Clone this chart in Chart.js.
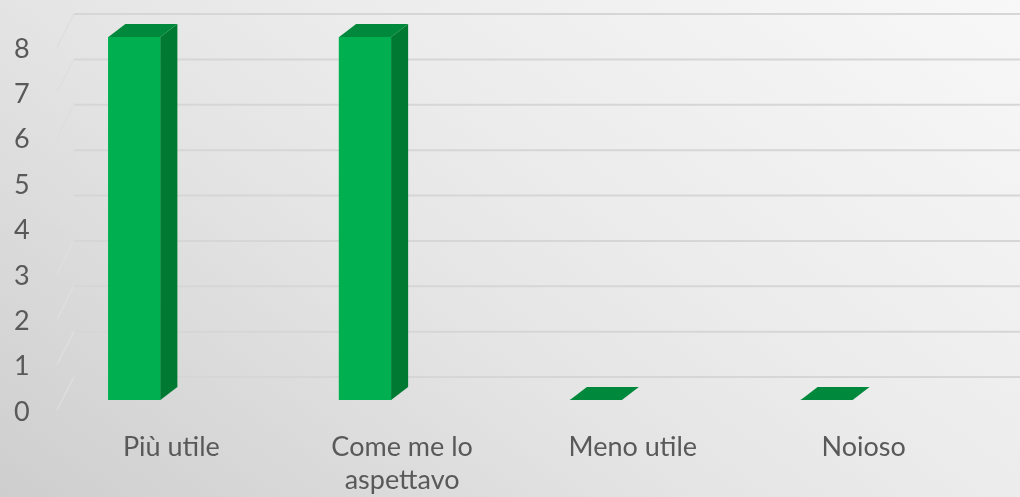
<!DOCTYPE html>
<html>
<head>
<meta charset="utf-8">
<script src="https://cdn.jsdelivr.net/npm/chart.js@4.4.1/dist/chart.umd.min.js"></script>
<style>
    html, body { margin: 0; padding: 0; overflow: hidden; }
    canvas { display: block; }
</style>
</head>
<body>
<canvas id="chart" width="1020" height="497"></canvas>
<script>
// data
const categories = ['Più utile', ['Come me lo', 'aspettavo'], 'Meno utile', 'Noioso'];
const values = [8, 8, 0, 0];
const yMin = 0;
const yMax = 8;
const yStep = 1;

// colours
const textColor = '#595959';
const frontColor = '#00b050';
const sideColor = '#007a33';
const topColor = '#00893c';
const wallLineColor = '#d6d6d6';
const floorLineColor = '#dedede';

// fake 3d geometry (pixels)
const barDepth = { dx: 17, dy: -13 };
const wallOffset = { dx: 30, dy: -23 };
const floorFront = { x: 57, dy: 10 };

const font = { family: 'Lato, "Open Sans", sans-serif', size: 27 };

// gradient background
const background = {
    id: 'background',
    beforeDraw(chart) {
        const { ctx, width, height } = chart;
        const g = ctx.createLinearGradient(width, 0, width - 591, 810);
        g.addColorStop(0, '#f8f8f8');
        g.addColorStop(0.4, '#ececec');
        g.addColorStop(0.6, '#e4e4e4');
        g.addColorStop(1, '#cecece');
        ctx.save();
        ctx.fillStyle = g;
        ctx.fillRect(0, 0, width, height);
        ctx.restore();
    },
};

// back wall gridlines + floor side lines, one per y tick
const grid3d = {
    id: 'grid3d',
    beforeDatasetsDraw(chart) {
        const { ctx, width } = chart;
        const yScale = chart.scales.y;
        const backX = floorFront.x + (wallOffset.dx - (-floorFront.dy * barDepth.dx / barDepth.dy));
        ctx.save();
        ctx.lineCap = 'butt';
        yScale.ticks.forEach((tick) => {
            const y0 = yScale.getPixelForValue(tick.value);
            const yBack = y0 + wallOffset.dy;
            const yFront = y0 + floorFront.dy;
            ctx.strokeStyle = wallLineColor;
            ctx.lineWidth = 2;
            ctx.beginPath();
            ctx.moveTo(backX, yBack);
            ctx.lineTo(width, yBack);
            ctx.stroke();
            ctx.strokeStyle = floorLineColor;
            ctx.lineWidth = 1.5;
            ctx.beginPath();
            ctx.moveTo(floorFront.x, yFront);
            ctx.lineTo(backX, yBack);
            ctx.stroke();
        });
        ctx.restore();
    },
};

// top and side faces of each bar
const bars3d = {
    id: 'bars3d',
    afterDatasetsDraw(chart) {
        const { ctx } = chart;
        const { dx, dy } = barDepth;
        chart.getDatasetMeta(0).data.forEach((bar) => {
            const { x, y, base, width } = bar.getProps(['x', 'y', 'base', 'width'], true);
            const l = x - width / 2;
            const r = x + width / 2;
            ctx.save();
            if (base - y > 0.5) {
                ctx.fillStyle = sideColor;
                ctx.beginPath();
                ctx.moveTo(r, y);
                ctx.lineTo(r + dx, y + dy);
                ctx.lineTo(r + dx, base + dy);
                ctx.lineTo(r, base);
                ctx.closePath();
                ctx.fill();
            }
            ctx.fillStyle = topColor;
            ctx.beginPath();
            ctx.moveTo(l, y);
            ctx.lineTo(l + dx, y + dy);
            ctx.lineTo(r + dx, y + dy);
            ctx.lineTo(r, y);
            ctx.closePath();
            ctx.fill();
            ctx.restore();
        });
    },
};

const chart = new Chart(document.getElementById('chart'), {
    type: 'bar',
    data: {
        labels: categories,
        datasets: [{
            data: values,
            backgroundColor: frontColor,
            borderWidth: 0,
            barThickness: 52,
        }],
    },
    options: {
        responsive: false,
        animation: false,
        events: [],
        layout: { padding: { left: 19, right: 78, top: 37, bottom: 0 } },
        plugins: {
            legend: { display: false },
            tooltip: { enabled: false },
        },
        scales: {
            x: {
                grid: { display: false, drawTicks: false },
                border: { display: false },
                afterFit: (scale) => { scale.height = 97; },
                ticks: {
                    color: textColor,
                    font: { ...font, lineHeight: 1.22 },
                    padding: 31,
                    labelOffset: 37,
                    maxRotation: 0,
                    autoSkip: false,
                },
            },
            y: {
                min: yMin,
                max: yMax,
                grid: { display: false, drawTicks: false },
                border: { display: false },
                afterFit: (scale) => { scale.width = 0; },
                ticks: {
                    stepSize: yStep,
                    color: textColor,
                    font,
                    mirror: true,
                    padding: -5,
                    labelOffset: 12,
                },
            },
        },
    },
    plugins: [background, grid3d, bars3d],
});
</script>
</body>
</html>
